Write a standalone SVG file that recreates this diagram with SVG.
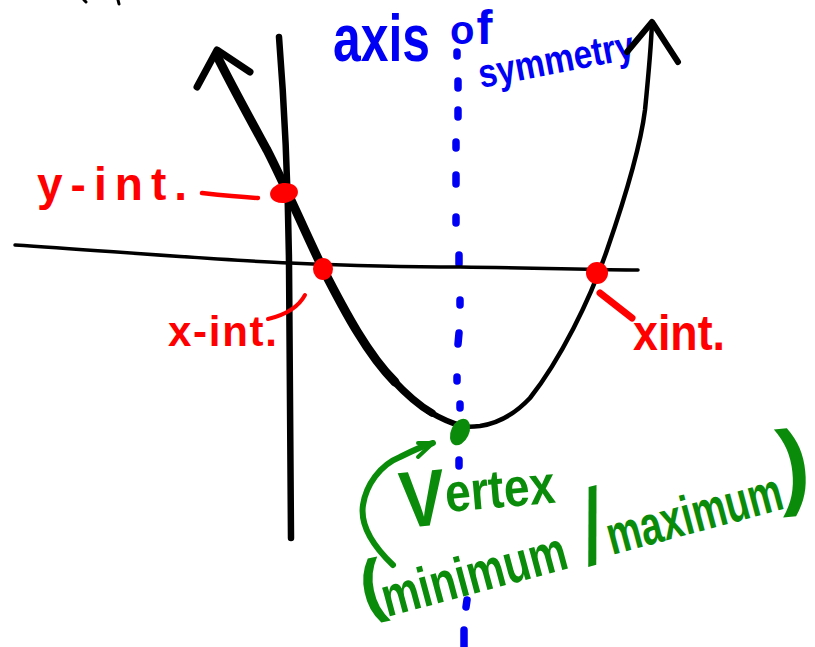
<svg xmlns="http://www.w3.org/2000/svg" width="815" height="647" viewBox="0 0 815 647">
<style>
.ink{fill:none;stroke:#000;stroke-linecap:round;stroke-linejoin:round}
.blue{fill:none;stroke:#0000f5;stroke-width:7.5;stroke-linecap:round}
.red{fill:none;stroke:#ff0000;stroke-linecap:round;stroke-linejoin:round}
.grn{fill:none;stroke:#0a8c0a;stroke-linecap:round;stroke-linejoin:round}
.t{font-family:"Liberation Sans",Arial,sans-serif;font-weight:bold}
.tb{fill:#0000f5}
.tr{fill:#ff0000}
.tg{fill:#0a8c0a}
</style>
<rect width="815" height="647" fill="#fff"/>
<g id="fragments">
<path class="ink" stroke-width="3" d="M84,0 L86,2 M118,0 L119,4"/>
</g>
<g id="axis-of-symmetry">
<g class="blue">
<path d="M457,52 L457,56 M458,81 L458,88 M458,110 L458,117 M456,142 L456,148 M456,175 L456,184 M456,217 L456,223 M459,255 L459,264 M460,300 L460,305 M459,333 L458,344 M457,377 L457,381 M460,404 L460,408 M459,460 L459,466 M467,600 L466,607 M464,630 L464,647"/>
</g>
<text class="t tb" x="333" y="61" font-size="66" textLength="97" lengthAdjust="spacingAndGlyphs">axis</text>
<text class="t tb" x="450" y="44" font-size="40">o<tspan font-size="48" dx="2">f</tspan></text>
<text class="t tb" transform="translate(481,88) rotate(-11)" font-size="40" textLength="158" lengthAdjust="spacingAndGlyphs">symmetry</text>
</g>
<g id="x-axis">
<path class="ink" stroke-width="3.5" d="M15,245 C120,252 220,260 290,263 C360,266 420,267 460,267 C540,268 600,270 638,270"/>
</g>
<g id="y-axis">
<path class="ink" stroke-width="6.5" d="M279,37 C284,100 288,180 289,262 C290,380 291,470 291,538"/>
</g>
<g id="parabola">
<path class="ink" stroke-width="9" d="M218,58 C235,92 255,128 267,150 C285,185 305,232 323,269 C345,312 368,355 395,382"/>
<path class="ink" stroke-width="7.5" d="M392,379 C405,393 418,405 432,413"/>
<path class="ink" stroke-width="6" d="M428,411 C440,418 450,423 462,426"/>
<path class="ink" stroke-width="4.5" d="M455,425 C462,427 472,427 480,426 C500,423 515,414 530,398 C560,360 590,300 607,250 C625,198 640,150 645,110 C648,80 651,50 652,22"/>
<path class="ink" stroke-width="7" d="M197,87 L217,50 L250,72"/>
<path class="ink" stroke-width="6" d="M627,52 L652,22 L678,62"/>
</g>
<g id="y-intercept">
<ellipse cx="284" cy="193" rx="14" ry="10" fill="#ff0000" transform="rotate(-8 284 193)"/>
<path class="red" stroke-width="4.5" d="M202,193 C220,195 240,197 258,198"/>
<text class="t tr" x="37" y="200" font-size="46" textLength="150">y-int.</text>
</g>
<g id="x-intercept-left">
<ellipse cx="323" cy="269" rx="10" ry="11" fill="#ff0000"/>
<path class="red" stroke-width="4" d="M305,295 C298,308 285,315 268,319"/>
<text class="t tr" x="168" y="346" font-size="42" textLength="109">x-int.</text>
</g>
<g id="x-intercept-right">
<circle cx="597" cy="273" r="11" fill="#ff0000"/>
<path class="red" stroke-width="7" d="M600,293 L632,318"/>
<text class="t tr" x="633" y="350" font-size="50" textLength="92" lengthAdjust="spacingAndGlyphs">xint.</text>
</g>
<g id="vertex">
<ellipse cx="460" cy="432" rx="9" ry="14" fill="#0a8c0a" transform="rotate(25 460 432)"/>
<path class="grn" stroke-width="6" d="M393,565 C372,545 360,525 363,505 C366,485 380,465 400,457 C412,451 422,446 433,443"/>
<path class="grn" stroke-width="4" d="M418,443 L433,443 L418,457"/>
<text class="t tg" transform="translate(402,528) rotate(-5)" font-size="80" textLength="156" lengthAdjust="spacingAndGlyphs">V<tspan font-size="54" dy="-12">ertex</tspan></text>
<text class="t tg" transform="translate(365,611) rotate(-12)" font-size="70" font-weight="normal">(</text>
<text class="t tg" transform="translate(387,617) rotate(-15)" font-size="56" textLength="190" lengthAdjust="spacingAndGlyphs">minimum</text>
<text class="tg" style="font-family:'Liberation Sans',Arial,sans-serif" transform="translate(588,566) rotate(-15)" font-size="105">/</text>
<text class="t tg" transform="translate(612,555) rotate(-15)" font-size="55" textLength="180" lengthAdjust="spacingAndGlyphs">maximum</text>
<text class="t tg" transform="translate(781,498) rotate(-6)" font-size="95">)</text>
</g>
</svg>
